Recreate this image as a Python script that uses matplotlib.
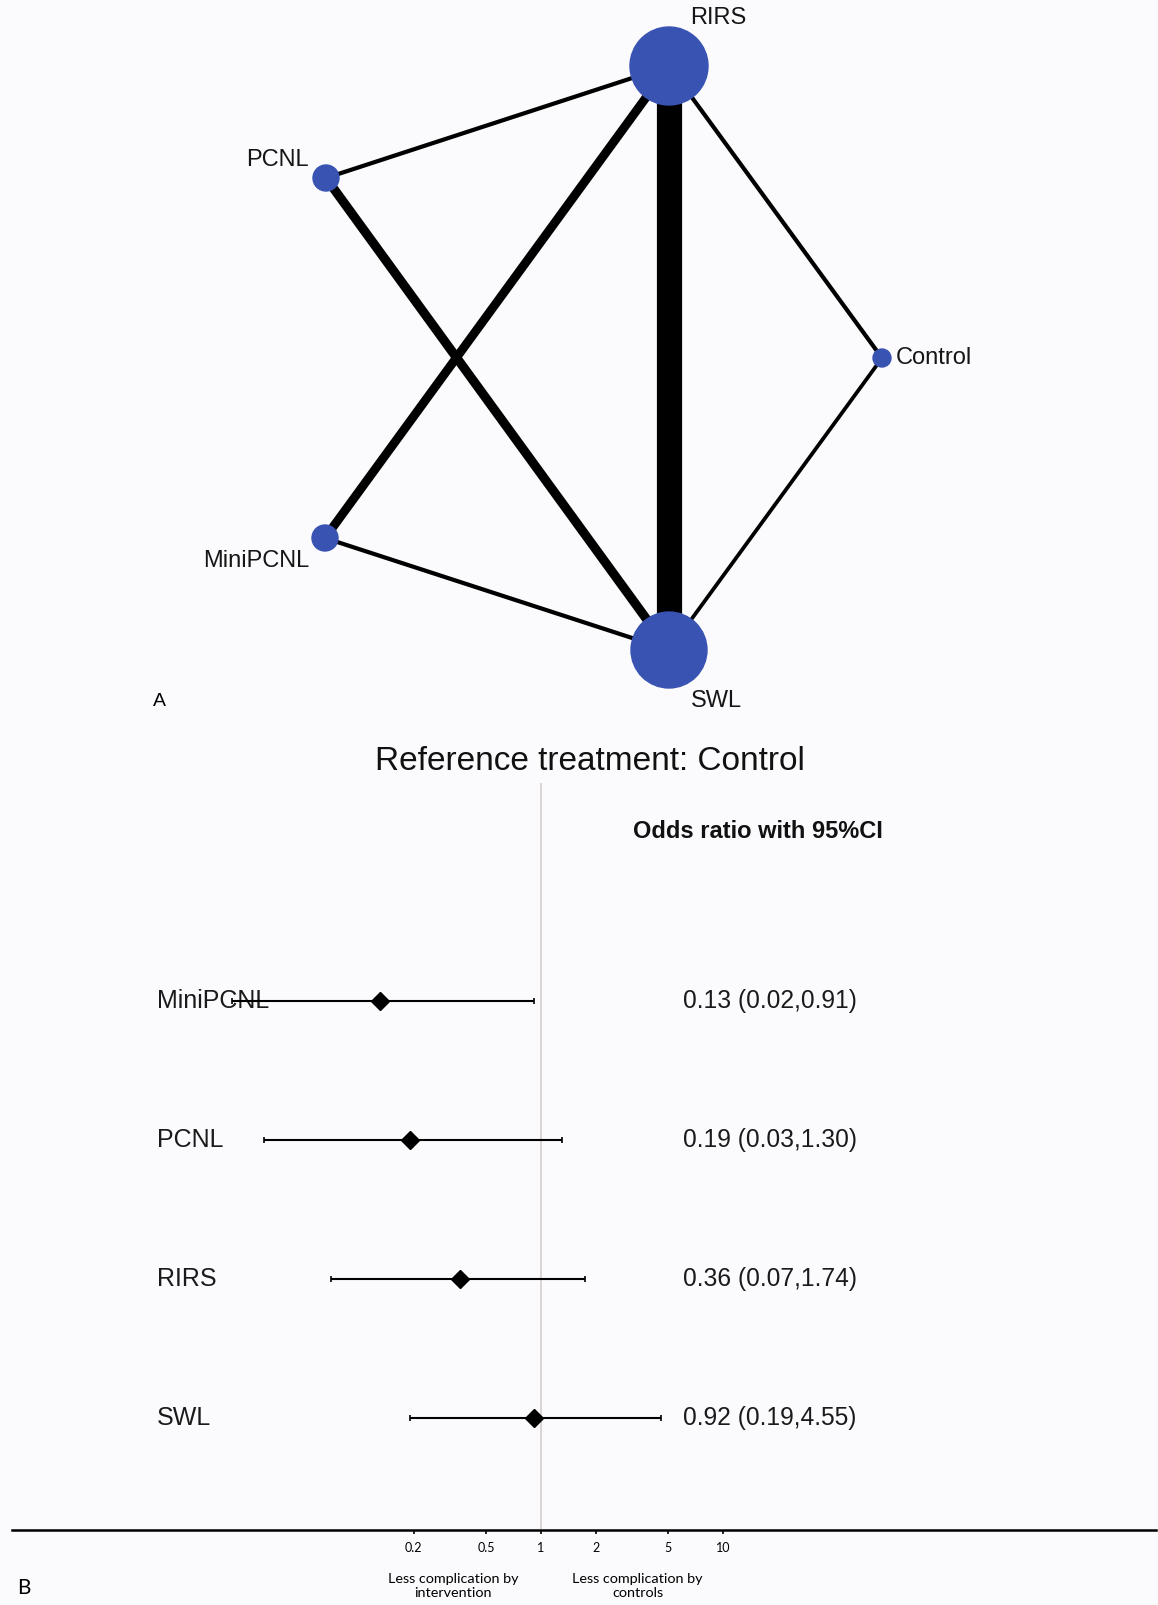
import numpy as np
import matplotlib.pyplot as plt
from matplotlib.patches import Circle
from matplotlib.transforms import blended_transform_factory

W, H = 1158, 1605

# ---- network (panel A) ----
treatments = ["RIRS", "PCNL", "MiniPCNL", "SWL", "Control"]
node_x = [669, 326, 325, 669, 882]
node_y = [66, 178, 538, 650, 358]
node_weight = [39, 13, 13, 38, 9]          # drawn radius in px
edges = [("RIRS", "SWL"), ("PCNL", "SWL"), ("MiniPCNL", "RIRS"),
         ("PCNL", "RIRS"), ("MiniPCNL", "SWL"), ("RIRS", "Control"),
         ("SWL", "Control")]
edge_studies = [6, 2.2, 2.1, 1, 1, 1, 0.9]

# ---- forest (panel B) ----
comparisons = ["MiniPCNL", "PCNL", "RIRS", "SWL"]
odds_ratio = [0.13, 0.19, 0.36, 0.92]
ci_low = [0.02, 0.03, 0.07, 0.19]
ci_high = [0.91, 1.30, 1.74, 4.55]
xticks = [0.2, 0.5, 1, 2, 5, 10]
xtick_labels = ["0.2", "0.5", "1", "2", "5", "10"]

NODE_COLOR = "#3953b2"
ARIAL = ["Liberation Sans", "DejaVu Sans"]
NARROW = ["Liberation Sans Narrow", "Lato", "DejaVu Sans"]


def fx(px):
    return px / W


def fy(py):
    return 1 - py / H


fig = plt.figure(figsize=(W / 100, H / 100), dpi=100, facecolor="#fbfbfd")

ax_net = fig.add_axes([0, 0, 1, 1])
ax_net.set_xlim(0, W)
ax_net.set_ylim(H, 0)
ax_net.axis("off")

pos = {t: (x, y) for t, x, y in zip(treatments, node_x, node_y)}
for (a, b), n in zip(edges, edge_studies):
    ax_net.plot([pos[a][0], pos[b][0]], [pos[a][1], pos[b][1]],
                color="black", lw=n * 4.2 * 0.72, solid_capstyle="butt", zorder=1)
for t, r in zip(treatments, node_weight):
    ax_net.add_patch(Circle(pos[t], r, color=NODE_COLOR, zorder=2))

label_style = dict(fontsize=17, family=ARIAL, color="#151515")
ax_net.text(pos["RIRS"][0] + 49, pos["RIRS"][1] - 48, "RIRS", ha="center", va="center", **label_style)
ax_net.text(pos["SWL"][0] + 47, pos["SWL"][1] + 51, "SWL", ha="center", va="center", **label_style)
ax_net.text(pos["PCNL"][0] - 17, pos["PCNL"][1] - 18, "PCNL", ha="right", va="center", **label_style)
ax_net.text(pos["MiniPCNL"][0] - 16, pos["MiniPCNL"][1] + 23, "MiniPCNL", ha="right", va="center", **label_style)
ax_net.text(pos["Control"][0] + 14, pos["Control"][1], "Control", ha="left", va="center", **label_style)
ax_net.text(159, 702, "A", ha="center", va="center", fontsize=14, family=ARIAL)

# forest axes: log scale, 1 at px 541, 182 px per decade
left_px, right_px, bottom_px, top_px = 12, 1156, 1530, 783
one_px, decade = 541, 182
ax = fig.add_axes([fx(left_px), fy(bottom_px), fx(right_px - left_px), (bottom_px - top_px) / H])
ax.set_facecolor("none")
ax.set_xscale("log")
ax.set_xlim(10 ** ((left_px - one_px) / decade), 10 ** ((right_px - one_px) / decade))
rows = np.arange(len(comparisons), 0, -1)
ax.set_ylim(0.194, 0.194 + (bottom_px - top_px) / 139)

ax.axvline(1, color="#d8d2d0", lw=1.3, zorder=0)
or_arr = np.array(odds_ratio)
ax.errorbar(or_arr, rows, xerr=[or_arr - np.array(ci_low), np.array(ci_high) - or_arr],
            fmt="D", color="black", ms=9.5, elinewidth=1.5, capsize=2.2, capthick=1.2, zorder=3)

tr = blended_transform_factory(fig.transFigure, ax.transData)
for name, y, o, lo, hi in zip(comparisons, rows, odds_ratio, ci_low, ci_high):
    ax.text(fx(157), y, name, transform=tr, ha="left", va="center",
            fontsize=18, family=ARIAL, color="#1a1a1a", zorder=1)
    ax.text(fx(683), y, f"{o:.2f} ({lo:.2f},{hi:.2f})", transform=tr, ha="left",
            va="center", fontsize=17.7, family=ARIAL, color="#1a1a1a")

for s in ["top", "left", "right"]:
    ax.spines[s].set_visible(False)
ax.spines["bottom"].set_linewidth(1.8)
ax.set_yticks([])
ax.set_xticks(xticks)
ax.set_xticklabels(xtick_labels, family=NARROW, fontsize=9)
ax.minorticks_off()
ax.tick_params(axis="x", length=3, width=1.2, direction="out", pad=6)

trx = blended_transform_factory(ax.transData, fig.transFigure)
ax.text(0.33, fy(1586), "Less complication by\nintervention", transform=trx,
        ha="center", va="center", fontsize=10.4, family=NARROW, linespacing=1.2)
ax.text(3.4, fy(1586), "Less complication by\ncontrols", transform=trx,
        ha="center", va="center", fontsize=10.4, family=NARROW, linespacing=1.2)

fig.text(fx(590), fy(762), "Reference treatment: Control", ha="center", va="center",
         fontsize=24, family=ARIAL, color="#111111")
fig.text(fx(758), fy(831), "Odds ratio with 95%CI", ha="center", va="center",
         fontsize=17, family=ARIAL, weight="bold", color="#111111")
fig.text(fx(24), fy(1588), "B", ha="center", va="center", fontsize=15, family=NARROW)

fig.savefig("out.png", dpi=100, facecolor=fig.get_facecolor())
